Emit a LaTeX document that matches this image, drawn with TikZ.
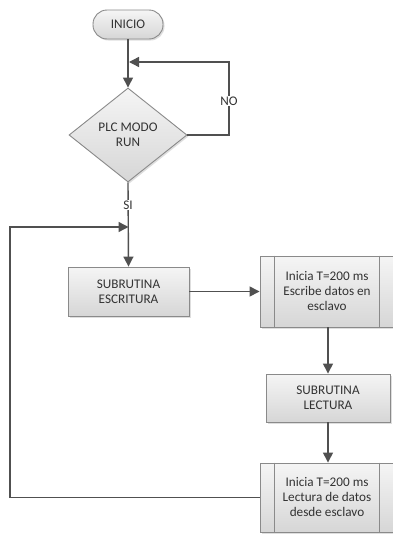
\documentclass[tikz,border=0pt]{standalone}
\usepackage{fontspec}
\setmainfont{Carlito}
\usetikzlibrary{shapes.geometric,arrows.meta,shadows,calc}
\definecolor{linec}{HTML}{505050}
\definecolor{textc}{HTML}{333333}
\definecolor{borderc}{HTML}{8A8A8A}
\tikzset{
  base/.style={draw=borderc, line width=0.9pt, top color=white!96!black, bottom color=black!16,
    drop shadow={shadow xshift=1.5pt, shadow yshift=-1.5pt, fill=black!25, opacity=0.5},
    text=textc, font=\fontsize{13.2}{15}\selectfont, align=center, inner sep=0pt},
  termbox/.style={base, rounded corners=14pt, minimum width=70pt, minimum height=29pt},
  decbox/.style={base, diamond, minimum width=118pt, minimum height=94pt, aspect=1.25},
  procbox/.style={base, rectangle, minimum height=49pt},
  predef/.style={base, rectangle, minimum width=134pt},
  conn/.style={draw=linec, line width=1.4pt},
  arr/.style={conn, -{Triangle[length=10pt,width=10pt]}},
  lbl/.style={fill=white, text=textc, font=\fontsize{13.2}{15}\selectfont, inner sep=1pt}
}
\begin{document}
\begin{tikzpicture}[x=1pt,y=-1pt]
\useasboundingbox (0,0) rectangle (392,536);
\fill[white] (0,0) rectangle (392,536);
\node[termbox] (inicio) at (128,24.5) {INICIO};
\node[decbox] (dec) at (128,135) {PLC MODO\\RUN};
\node[procbox, minimum width=121pt] (esc) at (128.5,291.5) {SUBRUTINA\\ESCRITURA};
\node[predef, minimum height=71pt] (p1) at (327,291.5) {Inicia T=200 ms\\Escribe datos en\\esclavo};
\node[procbox, minimum width=124pt, minimum height=48pt] (lec) at (328,398) {SUBRUTINA\\LECTURA};
\node[predef, minimum height=69pt] (p2) at (327,497.5) {Inicia T=200 ms\\Lectura de datos\\desde esclavo};
\foreach \n in {p1,p2}{
  \draw[draw=borderc, line width=0.9pt] ($(\n.north west)+(15,0)$) -- ($(\n.south west)+(15,0)$);
  \draw[draw=borderc, line width=0.9pt] ($(\n.north east)+(-15,0)$) -- ($(\n.south east)+(-15,0)$);
}
\coordinate (j1) at (129,62);
\coordinate (nr) at (229,62);
\coordinate (j2) at (128.5,227);
\coordinate (lc) at (10,227);
\draw[arr] (inicio.south) -- (dec.north);
\draw[arr] (dec.east) -| (nr) -- (j1);
\node[lbl] (no) at (229,101) {NO};
\draw[arr] (dec.south) -- (esc.north);
\node[lbl] (si) at (128,205) {SI};
\draw[arr] (p2.west) -| (lc) -- (j2);
\draw[arr] (esc.east) -- (p1.west);
\draw[arr] (p1.south -| lec.north) -- (lec.north);
\draw[arr] (lec.south) -- (lec.south |- p2.north);
\end{tikzpicture}
\end{document}
